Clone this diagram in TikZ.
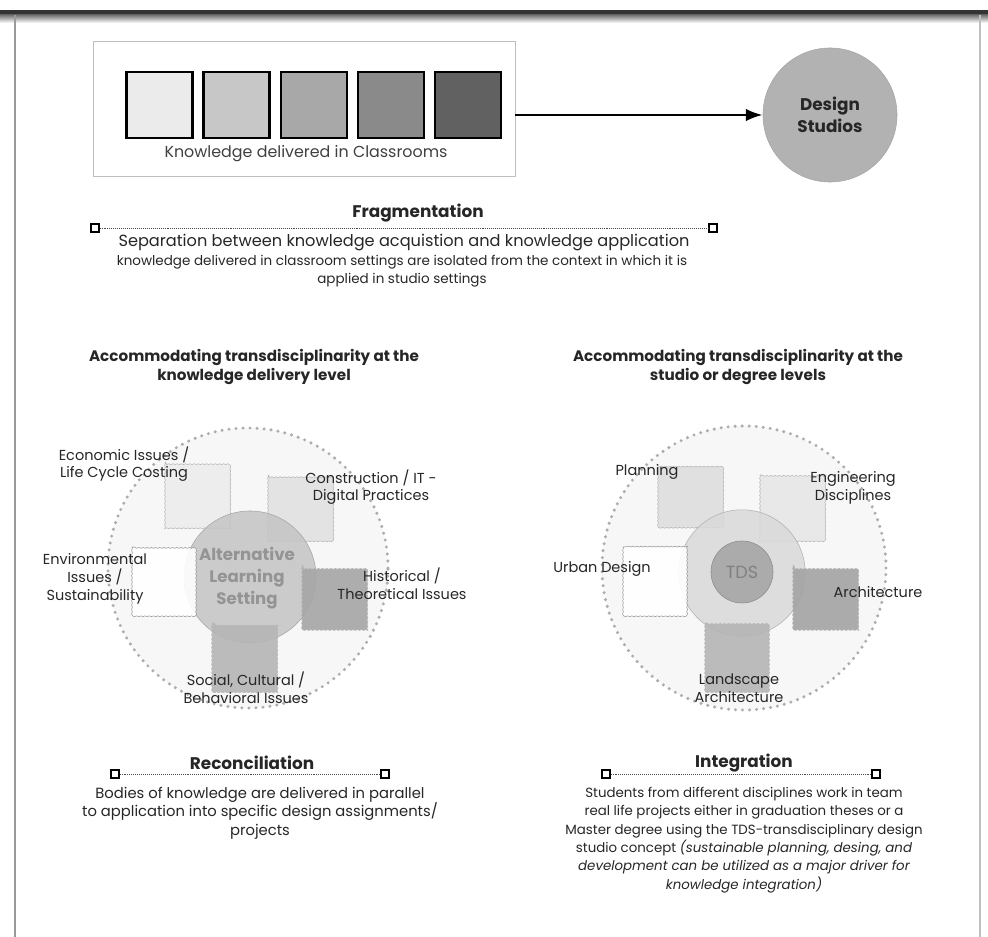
\documentclass[tikz,border=0pt]{standalone}
\usepackage{fontspec}
\setmainfont{Poppins}
\usetikzlibrary{arrows.meta,positioning,decorations.pathmorphing}
\newcommand\fs[2]{\fontsize{#1}{#2}\selectfont}

\begin{document}
\begin{tikzpicture}[x=0.025cm,y=-0.025cm,>=Latex,node distance=0.22cm,
  every node/.style={font=\fs{9.5}{13.2},align=center,inner sep=1pt,text=black!85},
  kbox/.style={draw,line width=1.6pt,minimum width=1.65cm,minimum height=1.65cm,inner sep=0},
  endsq/.style={draw,line width=1.1pt,minimum size=0.19cm,inner sep=0},
  head/.style={font=\bfseries\fs{12}{14}},
  subhead/.style={font=\bfseries\fs{10.8}{14.2}},
  lbl/.style={font=\fs{10.3}{12.6}},
  wsq/.style={draw=black!28,decorate,decoration={snake,amplitude=.3pt,segment length=3pt}},
  dotring/.style={draw=black!32,fill=black!3,line width=2.4pt,line cap=round,dash pattern=on 0pt off 5pt}]
\useasboundingbox (0,0) rectangle (988,937);
% page edges
\fill[black!80] (0,10) rectangle (988,15);
\shade[top color=black!55,bottom color=white] (0,15) rectangle (988,23);
\draw[black!40,line width=1.2pt] (15,15) -- (15,937);
\draw[black!25,line width=1.2pt] (980,15) -- (980,937);

% classrooms -> studios
\node[draw=black!25,minimum width=10.55cm,minimum height=3.375cm] (cbox) at (304,108.5) {};
\node[kbox,fill=black!8] (k1) at (159.5,105) {};
\node[kbox,fill=black!22,right=of k1] (k2) {};
\node[kbox,fill=black!34,right=of k2] (k3) {};
\node[kbox,fill=black!46,right=of k3] (k4) {};
\node[kbox,fill=black!62,right=of k4] (k5) {};
\node[font=\fs{11.3}{13},text=black!75] (kl) at (306,154) {Knowledge delivered in Classrooms};
\node[circle,draw=black!35,fill=black!30,minimum size=3.35cm,font=\bfseries\fs{12}{16}] (ds) at (830,115) {Design\\Studios};
\draw[->,line width=2pt] (cbox.east |- ds) -- (ds);

% fragmentation
\node[head] (frag) at (418,213) {Fragmentation};
\node[endsq] (fl) at (95,228) {};
\node[endsq] (fr) at (713,228) {};
\draw[densely dotted,black!70] (fl) -- (fr);
\node[font=\fs{11.5}{13}] (fragtxt) at (404,243) {Separation between knowledge acquistion and knowledge application};
\node[font=\fs{9.6}{12.5}] (fragsub) at (402,271) {knowledge delivered in classroom settings are isolated from the context in which it is\\applied in studio settings};

% headings
\node[subhead] (hl) at (254,367) {Accommodating transdisciplinarity at the\\knowledge delivery level};
\node[subhead] (hr) at (738,367) {Accommodating transdisciplinarity at the\\studio or degree levels};

% knowledge delivery level
\draw[dotring] (248,568) circle[radius=3.5cm];
\draw[wsq,fill=black!7] (165,462) rectangle (230,527);
\draw[wsq,fill=black!11] (268,475) rectangle (333,540);
\draw[draw=black!35,fill=black!23,fill opacity=.85] (250,577) circle[radius=1.65cm];
\draw[wsq,draw=black!40,fill=white,fill opacity=.9] (132,547) rectangle (195,615);
\draw[wsq,fill=black!35,fill opacity=.9] (302,565) rectangle (367,628);
\draw[wsq,fill=black!29,fill opacity=.9] (212,623) rectangle (278,690);
\node[font=\bfseries\fs{11.8}{15.5},text=black!42] (als) at (247,578) {Alternative\\Learning\\Setting};
\node[lbl] (econ) at (124,464) {Economic Issues /\\Life Cycle Costing};
\node[lbl] (cons) at (371,487) {Construction / IT -\\Digital Practices};
\node[lbl] (env) at (95,579) {Environmental\\Issues /\\Sustainability};
\node[lbl] (hist) at (402,584) {Historical /\\Theoretical Issues};
\node[lbl] (soc) at (246,688) {Social, Cultural /\\Behavioral Issues};

% studio or degree levels
\draw[dotring] (744,568) circle[radius=3.55cm];
\draw[wsq,fill=black!12] (658,467) rectangle (723,527);
\draw[wsq,fill=black!9] (760,475) rectangle (827,540);
\draw[draw=black!30,fill=black!15,fill opacity=.85] (742,573) circle[radius=1.58cm];
\draw[wsq,draw=black!40,fill=white,fill opacity=.9] (623,547) rectangle (687,615);
\draw[wsq,fill=black!36,fill opacity=.9] (793,565) rectangle (858,628);
\draw[wsq,fill=black!29,fill opacity=.9] (705,623) rectangle (770,690);
\node[circle,draw=black!45,fill=black!33,minimum size=1.55cm,font=\fs{12.5}{14},text=black!50] (tds) at (742,572) {TDS};
\node[lbl] (plan) at (647,472) {Planning};
\node[lbl] (eng) at (853,488) {Engineering\\Disciplines};
\node[lbl] (urb) at (602,569) {Urban Design};
\node[lbl] (arch) at (878,592) {Architecture};
\node[lbl] (land) at (739,688) {Landscape\\Architecture};

% reconciliation
\node[head] (rec) at (252,763) {Reconciliation};
\node[endsq] (rl) at (115,774) {};
\node[endsq] (rr) at (385,774) {};
\draw[densely dotted,black!70] (rl) -- (rr);
\node[font=\fs{10.5}{13.3}] (rectxt) at (260,813) {Bodies of knowledge are delivered in parallel\\to application into specific design assignments/\\projects};

% integration
\node[head] (integ) at (744,763) {Integration};
\node[endsq] (il) at (606,774) {};
\node[endsq] (ir) at (876,774) {};
\draw[densely dotted,black!70] (il) -- (ir);
\node[font=\fs{9.5}{13}] (integtxt) at (744,840) {Students from different disciplines work in team\\real life projects either in graduation theses or a\\Master degree using the TDS-transdisciplinary design\\studio concept {\itshape(sustainable planning, desing, and}\\{\itshape development can be utilized as a major driver for}\\{\itshape knowledge integration)}};
\end{tikzpicture}
\end{document}
